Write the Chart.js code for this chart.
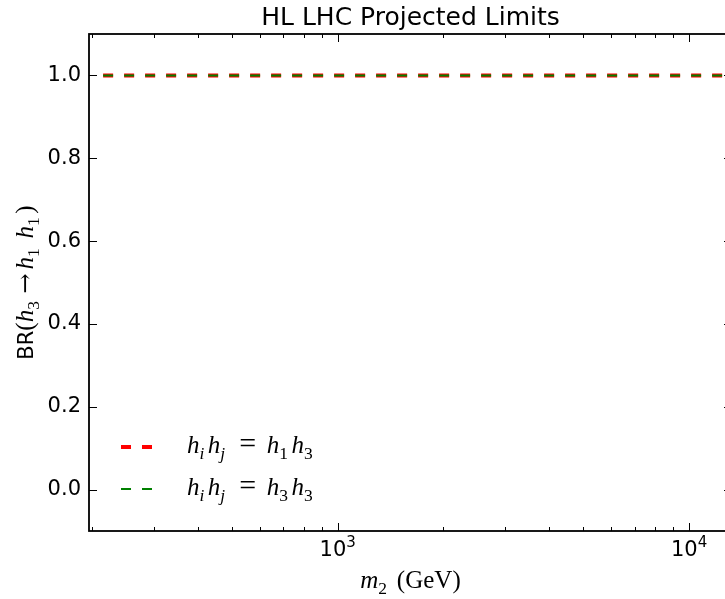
<!DOCTYPE html>
<html>
<head>
<meta charset="utf-8">
<title>HL LHC Projected Limits</title>
<script src="https://cdn.jsdelivr.net/npm/chart.js@4.4.1/dist/chart.umd.min.js"></script>
<style>
  html, body { margin: 0; padding: 0; background: #fff; overflow: hidden; }
  #wrap { width: 760px; height: 599px; }
</style>
</head>
<body>
<div id="wrap"><canvas id="limitsChart" width="760" height="599"></canvas></div>
<script>
// m2 scan points (GeV) and the branching ratio for each final state
const m2Values = [215, 250, 300, 400, 500, 700, 1000, 1500, 2000, 3000, 5000, 7000, 10000, 13250];
const brH1H3 = [1.0, 1.0, 1.0, 1.0, 1.0, 1.0, 1.0, 1.0, 1.0, 1.0, 1.0, 1.0, 1.0, 1.0];
const brH3H3 = [1.0, 1.0, 1.0, 1.0, 1.0, 1.0, 1.0, 1.0, 1.0, 1.0, 1.0, 1.0, 1.0, 1.0];

// axis ticks
const yTicks = [0.0, 0.2, 0.4, 0.6, 0.8, 1.0];
const xMajorTicks = [1000, 10000];
const xTickBase = '10';
const xTickExps = ['3', '4'];
const xMinorTicks = [200, 300, 400, 500, 600, 700, 800, 900, 2000, 3000, 4000, 5000, 6000, 7000, 8000, 9000];

const SANS = '"DejaVu Sans", sans-serif';
const SERIF = '"Liberation Serif", "DejaVu Serif", serif';

// little helpers for mathtext-like labels (italic symbols, subscripts, spacing)
const I = t => ({ t, it: true });
const R = t => ({ t });
const Si = t => ({ t, it: true, sub: true, after: 0.14 });
const Sr = t => ({ t, sub: true, after: 0.14 });
const Op = t => ({ t, scale: 1.2, before: 0.42, after: 0.42 });

const legendLabels = [
  [I('h'), Si('i'), I('h'), Si('j'), Op('='), I('h'), Sr('1'), I('h'), Sr('3')],
  [I('h'), Si('i'), I('h'), Si('j'), Op('='), I('h'), Sr('3'), I('h'), Sr('3')]
];
const xAxisLabel = [I('m'), Sr('2'), R(' (GeV)')];
const yAxisLabel = [{ t: 'BR', sans: true }, R('('), I('h'), Sr('3'), { t: '\u2192', arrow: true, before: 0.16, after: 0.16 },
  I('h'), Sr('1'), R(' '), I('h'), Sr('1'), R(')')];

function mathFont(p, size) {
  let s = p.sub ? size * 0.7 : size;
  if (p.scale) s *= p.scale;
  if (p.sans) return '21px ' + SANS;
  if (p.arrow) return Math.round(size * 0.95) + 'px "DejaVu Serif", serif';
  return (p.it ? 'italic ' : '') + s + 'px ' + SERIF;
}

function mathWidth(ctx, parts, size) {
  let w = 0;
  parts.forEach(p => {
    ctx.font = mathFont(p, size);
    w += ctx.measureText(p.t).width + ((p.before || 0) + (p.after || 0)) * size;
  });
  return w;
}

function drawMath(ctx, parts, x, y, size) {
  ctx.textAlign = 'left';
  ctx.textBaseline = 'alphabetic';
  parts.forEach(p => {
    ctx.font = mathFont(p, size);
    x += (p.before || 0) * size;
    ctx.fillText(p.t, x, y + (p.sub ? size * 0.24 : 0));
    x += ctx.measureText(p.t).width + (p.after || 0) * size;
  });
}

// frame, inward ticks, x tick labels, axis labels and legend
const decorations = {
  id: 'decorations',
  afterDraw(chart) {
    const { ctx, chartArea: a, scales: { x, y } } = chart;
    ctx.save();
    ctx.strokeStyle = '#000';
    ctx.fillStyle = '#000';

    ctx.lineWidth = 1;
    ctx.beginPath();
    const xTick = (v, len) => {
      const px = Math.round(x.getPixelForValue(v)) + 0.5;
      ctx.moveTo(px, a.bottom); ctx.lineTo(px, a.bottom - len);
      ctx.moveTo(px, a.top); ctx.lineTo(px, a.top + len);
    };
    xMajorTicks.forEach(v => xTick(v, 8));
    xMinorTicks.forEach(v => xTick(v, 4));
    yTicks.forEach(v => {
      const py = Math.round(y.getPixelForValue(v)) + 0.5;
      ctx.moveTo(a.left, py); ctx.lineTo(a.left + 8, py);
      ctx.moveTo(a.right, py); ctx.lineTo(a.right - 8, py);
    });
    ctx.stroke();

    ctx.lineWidth = 1.8;
    ctx.strokeRect(a.left, a.top, a.right - a.left, a.bottom - a.top);

    // x tick labels as 10^n
    xMajorTicks.forEach((v, i) => {
      const px = x.getPixelForValue(v);
      ctx.font = '21px ' + SANS;
      const wb = ctx.measureText(xTickBase).width;
      ctx.font = '15px ' + SANS;
      const we = ctx.measureText(xTickExps[i]).width;
      const x0 = px - (wb + we) / 2;
      ctx.textAlign = 'left';
      ctx.textBaseline = 'alphabetic';
      ctx.font = '21px ' + SANS;
      ctx.fillText(xTickBase, x0, a.bottom + 25);
      ctx.font = '15px ' + SANS;
      ctx.fillText(xTickExps[i], x0 + wb, a.bottom + 16);
    });

    // axis titles
    const xw = mathWidth(ctx, xAxisLabel, 25);
    drawMath(ctx, xAxisLabel, (a.left + a.right) / 2 - xw / 2, a.bottom + 57, 25);

    ctx.save();
    ctx.translate(a.left - 56, (a.top + a.bottom) / 2);
    ctx.rotate(-Math.PI / 2);
    const yw = mathWidth(ctx, yAxisLabel, 25);
    drawMath(ctx, yAxisLabel, -yw / 2, 0, 25);
    ctx.restore();

    // legend, lower left, no frame
    const rows = [a.bottom - 84, a.bottom - 42];
    chart.data.datasets.forEach((ds, i) => {
      const ly = rows[i];
      ctx.save();
      ctx.strokeStyle = ds.borderColor;
      ctx.lineWidth = ds.borderWidth;
      ctx.setLineDash(ds.borderDash);
      ctx.beginPath();
      ctx.moveTo(a.left + 32, ly);
      ctx.lineTo(a.left + 65, ly);
      ctx.stroke();
      ctx.restore();
      drawMath(ctx, legendLabels[i], a.left + 98, ly + 6, 25);
    });

    ctx.restore();
  }
};

const ctx = document.getElementById('limitsChart').getContext('2d');
new Chart(ctx, {
  type: 'line',
  data: {
    datasets: [
      {
        label: 'h_i h_j = h_1 h_3',
        data: m2Values.map((m, i) => ({ x: m, y: brH1H3[i] })),
        borderColor: '#ff0000',
        borderWidth: 4,
        borderDash: [10, 11],
        pointRadius: 0,
        order: 2
      },
      {
        label: 'h_i h_j = h_3 h_3',
        data: m2Values.map((m, i) => ({ x: m, y: brH3H3[i] })),
        borderColor: '#008000',
        borderWidth: 2,
        borderDash: [10, 11],
        pointRadius: 0,
        order: 1
      }
    ]
  },
  options: {
    responsive: false,
    animation: false,
    devicePixelRatio: 1,
    layout: { padding: { left: 0, right: 28, top: 0, bottom: 0 } },
    plugins: {
      legend: { display: false },
      tooltip: { enabled: false },
      title: {
        display: true,
        text: 'HL LHC Projected Limits',
        color: '#000',
        fullSize: false,
        font: { family: SANS, size: 25, weight: 'normal' },
        padding: { top: 3, bottom: 1 }
      }
    },
    scales: {
      x: {
        type: 'logarithmic',
        min: 196,
        max: 13250,
        grid: { display: false },
        border: { display: false },
        ticks: { display: false },
        afterFit: s => { s.height = 68; }
      },
      y: {
        type: 'linear',
        min: -0.1,
        max: 1.1,
        grid: { display: false, drawTicks: false },
        border: { display: false },
        afterBuildTicks: s => { s.ticks = yTicks.map(v => ({ value: v })); },
        ticks: {
          color: '#000',
          padding: 8,
          font: { family: SANS, size: 21 },
          callback: v => Number(v).toFixed(1)
        },
        afterFit: s => { s.width = 89; }
      }
    }
  },
  plugins: [decorations]
});
</script>
</body>
</html>
